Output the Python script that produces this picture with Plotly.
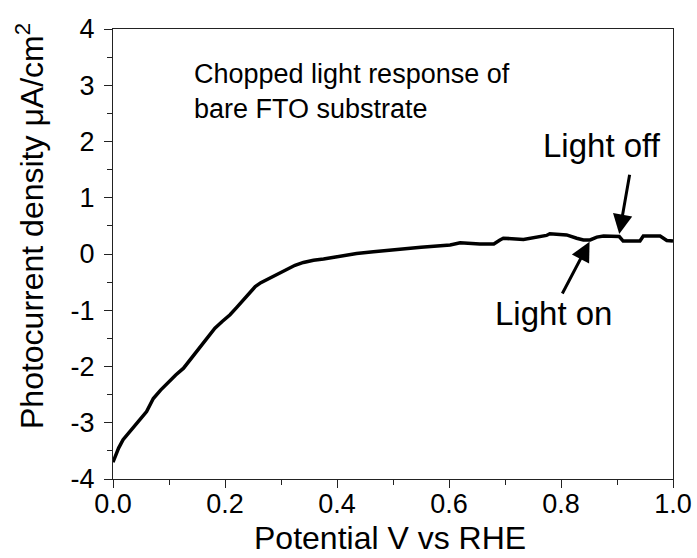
import plotly.graph_objects as go

# Potential (V vs RHE) and photocurrent density (uA/cm^2)
potential = [0.000, 0.010, 0.018, 0.030, 0.045, 0.060, 0.072, 0.085, 0.099, 0.112,
             0.126, 0.140, 0.155, 0.168, 0.182, 0.195, 0.209, 0.221, 0.233, 0.244,
             0.254, 0.264, 0.274, 0.292, 0.310, 0.325, 0.340, 0.358, 0.376, 0.400,
             0.435, 0.465, 0.495, 0.550, 0.602, 0.620, 0.655, 0.680, 0.691, 0.697,
             0.733, 0.757, 0.774, 0.780, 0.810, 0.828, 0.840, 0.852, 0.864, 0.876,
             0.893, 0.904, 0.911, 0.941, 0.947, 0.977, 0.989, 1.000]
current = [-3.70, -3.45, -3.30, -3.15, -2.98, -2.80, -2.57, -2.42, -2.27, -2.15,
           -2.03, -1.85, -1.65, -1.48, -1.32, -1.20, -1.08, -0.95, -0.82, -0.70,
           -0.58, -0.51, -0.46, -0.37, -0.28, -0.20, -0.15, -0.11, -0.09, -0.05,
           0.01, 0.04, 0.07, 0.12, 0.16, 0.20, 0.18, 0.18, 0.25, 0.28,
           0.26, 0.30, 0.33, 0.36, 0.34, 0.28, 0.25, 0.25, 0.30, 0.32,
           0.32, 0.31, 0.23, 0.23, 0.32, 0.32, 0.24, 0.23]

x_ticks = [0.0, 0.2, 0.4, 0.6, 0.8, 1.0]
x_tick_labels = ["0.0", "0.2", "0.4", "0.6", "0.8", "1.0"]
y_ticks = [-4, -3, -2, -1, 0, 1, 2, 3, 4]
y_tick_labels = ["-4", "-3", "-2", "-1", "0", "1", "2", "3", "4"]

# arrows: (tail_x, tail_y, tip_x, tip_y)
arrow_off = (0.923, 1.435, 0.904, 0.356)
arrow_on = (0.801, -0.729, 0.851, 0.219)

FONT = "Arial, Liberation Sans, sans-serif"

# plot area geometry in pixels
L, R, T, B = 113, 24, 29, 79
W, H = 697, 558
PW, PH = W - L - R, H - T - B


def px_to_paper_x(px):
    return (px - L) / PW


def px_to_paper_y(py):
    return (H - B - py) / PH


fig = go.Figure()
fig.add_trace(go.Scatter(x=potential, y=current, mode="lines",
                         line=dict(color="black", width=3.5), showlegend=False))

axis_common = dict(showline=True, linecolor="#222", linewidth=1.3, mirror=True,
                   ticks="outside", ticklen=8, tickwidth=1.3, tickcolor="#222",
                   showgrid=False, zeroline=False, automargin=False,
                   tickfont=dict(family=FONT, size=27, color="black"))

fig.update_xaxes(range=[0, 1.0], tickvals=x_ticks, ticktext=x_tick_labels,
                 minor=dict(dtick=0.1, ticks="outside", ticklen=5, tickwidth=1.3, tickcolor="#222"),
                 ticklabelstandoff=-8,
                 **axis_common)
fig.update_yaxes(range=[-4, 4], tickvals=y_ticks, ticktext=y_tick_labels,
                 minor=dict(dtick=0.5, ticks="outside", ticklen=5, tickwidth=1.3, tickcolor="#222"),
                 ticklabelstandoff=4,
                 **axis_common)

# axis titles as annotations
fig.add_annotation(text="Potential V vs RHE", xref="paper", yref="paper",
                   x=px_to_paper_x(390), y=px_to_paper_y(538), showarrow=False,
                   font=dict(family=FONT, size=32, color="black"),
                   xanchor="center", yanchor="middle")
fig.add_annotation(text="Photocurrent density μA/cm<sup>2</sup>", xref="paper", yref="paper",
                   x=px_to_paper_x(30), y=px_to_paper_y(226), textangle=-90, showarrow=False,
                   font=dict(family=FONT, size=32, color="black"),
                   xanchor="center", yanchor="middle")

fig.add_annotation(text="Chopped light response of<br>bare FTO substrate", xref="x", yref="y",
                   x=(192 - 113) / 560, y=(254 - 57) / 56.25, showarrow=False, align="left",
                   xanchor="left", yanchor="top",
                   font=dict(family=FONT, size=27, color="black"))

for (tx, ty, hx, hy) in (arrow_off, arrow_on):
    fig.add_annotation(x=hx, y=hy, ax=tx, ay=ty, xref="x", yref="y", axref="x", ayref="y",
                       text="", showarrow=True, arrowhead=2, arrowsize=1.3, arrowwidth=3,
                       arrowcolor="black")

fig.add_annotation(text="Light off", xref="x", yref="y", x=(602 - 113) / 560, y=(254 - 145) / 56.25,
                   showarrow=False, xanchor="center", yanchor="middle",
                   font=dict(family=FONT, size=33, color="black"))
fig.add_annotation(text="Light on", xref="x", yref="y", x=(553 - 113) / 560, y=(254 - 313) / 56.25,
                   showarrow=False, xanchor="center", yanchor="middle",
                   font=dict(family=FONT, size=33, color="black"))

fig.update_layout(width=W, height=H, margin=dict(l=L, r=R, t=T, b=B),
                  paper_bgcolor="white", plot_bgcolor="white",
                  font=dict(family=FONT, color="black"))

fig.write_html("out.html")
